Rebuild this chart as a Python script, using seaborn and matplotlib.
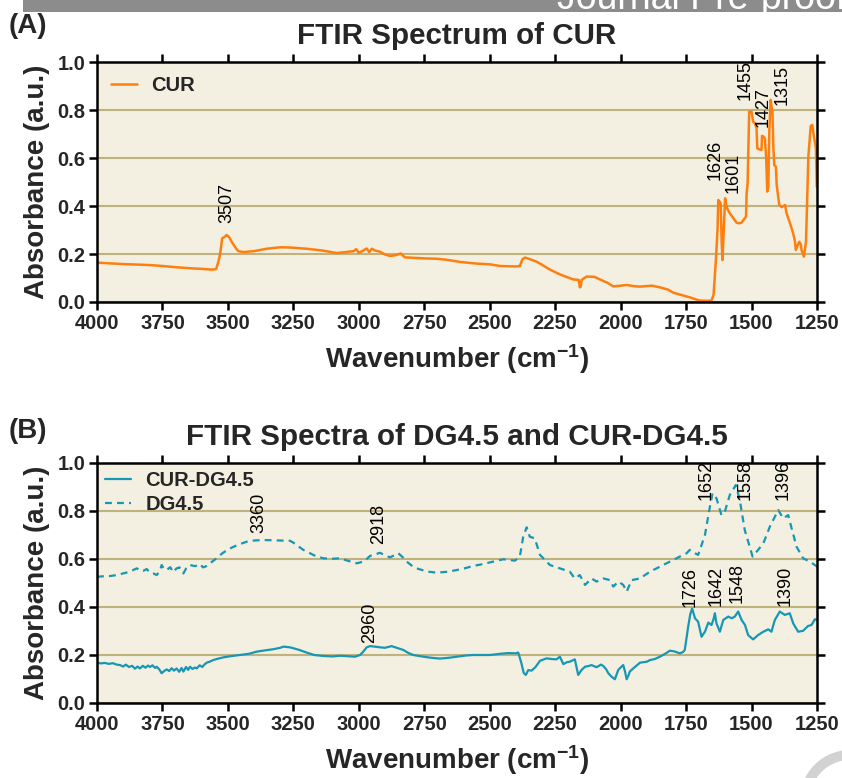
import matplotlib
matplotlib.use("Agg")
import matplotlib.pyplot as plt
from matplotlib.patches import Rectangle, Wedge
import seaborn as sns
import pandas as pd

# ---------------- data ----------------
cur_w = [4000, 3950, 3900, 3850, 3800, 3750, 3700, 3650, 3600, 3560, 3545, 3537, 3530, 3522, 3512, 3505,
         3495, 3485, 3470, 3460, 3440, 3400, 3352, 3300, 3263, 3200, 3136, 3085, 3050, 3020, 3010, 3000,
         2985, 2970, 2960, 2950, 2940, 2920, 2900, 2881, 2860, 2840, 2824, 2754, 2700, 2665, 2614, 2550,
         2499, 2461, 2400, 2385, 2375, 2365, 2345, 2321, 2300, 2270, 2232, 2200, 2181, 2160, 2156, 2152,
         2149, 2130, 2100, 2079, 2050, 2028, 2000, 1977, 1950, 1926, 1880, 1850, 1820, 1799, 1770, 1735,
         1710, 1697, 1670, 1653, 1645, 1640, 1635, 1630, 1627, 1622, 1618, 1614, 1611, 1608, 1605, 1601,
         1596, 1590, 1583, 1570, 1557, 1545, 1538, 1525, 1521, 1519, 1515, 1513, 1509, 1500, 1494, 1487,
         1481, 1478, 1462, 1460, 1455, 1449, 1444, 1440, 1436, 1432, 1427, 1420, 1417, 1413, 1407, 1404,
         1394, 1385, 1372, 1366, 1353, 1341, 1334, 1331, 1318, 1312, 1309, 1300, 1292, 1283, 1274, 1268,
         1262, 1254, 1251]
cur_a = [0.164, 0.161, 0.158, 0.156, 0.154, 0.150, 0.145, 0.141, 0.138, 0.135, 0.137, 0.165, 0.198, 0.265, 0.272, 0.279,
         0.270, 0.250, 0.225, 0.212, 0.208, 0.212, 0.222, 0.228, 0.227, 0.222, 0.214, 0.204, 0.208, 0.212, 0.220, 0.205,
         0.213, 0.223, 0.208, 0.222, 0.215, 0.210, 0.198, 0.192, 0.195, 0.202, 0.186, 0.182, 0.180, 0.176, 0.167, 0.160,
         0.157, 0.150, 0.148, 0.150, 0.178, 0.185, 0.178, 0.168, 0.155, 0.135, 0.115, 0.102, 0.094, 0.092, 0.061, 0.065,
         0.092, 0.106, 0.105, 0.094, 0.080, 0.065, 0.068, 0.071, 0.066, 0.064, 0.068, 0.061, 0.052, 0.039, 0.030, 0.019,
         0.010, 0.006, 0.005, 0.006, 0.030, 0.110, 0.196, 0.300, 0.425, 0.418, 0.411, 0.250, 0.175, 0.250, 0.330, 0.432,
         0.400, 0.383, 0.370, 0.350, 0.330, 0.328, 0.331, 0.350, 0.356, 0.450, 0.494, 0.592, 0.793, 0.793, 0.751, 0.745,
         0.724, 0.640, 0.633, 0.692, 0.690, 0.682, 0.600, 0.460, 0.481, 0.717, 0.842, 0.790, 0.650, 0.570, 0.564, 0.488,
         0.404, 0.395, 0.404, 0.369, 0.328, 0.286, 0.251, 0.217, 0.251, 0.240, 0.217, 0.189, 0.251, 0.606, 0.733, 0.738,
         0.692, 0.640, 0.480]

cdg_w = [4000, 3985, 3970, 3955, 3940, 3925, 3912, 3900, 3890, 3878, 3866, 3855, 3845, 3836, 3825, 3815,
         3805, 3798, 3788, 3778, 3772, 3762, 3753, 3745, 3734, 3724, 3715, 3706, 3696, 3686, 3677, 3670,
         3660, 3652, 3645, 3635, 3626, 3619, 3608, 3598, 3590, 3581, 3570, 3556, 3540, 3518, 3490, 3454,
         3420, 3390, 3360, 3327, 3300, 3288, 3263, 3230, 3199, 3170, 3136, 3100, 3072, 3040, 3015, 2995,
         2983, 2970, 2957, 2940, 2919, 2900, 2875, 2850, 2830, 2810, 2792, 2754, 2720, 2690, 2660, 2626,
         2590, 2563, 2530, 2499, 2460, 2430, 2400, 2391, 2380, 2370, 2362, 2353, 2340, 2325, 2308, 2283,
         2262, 2245, 2232, 2219, 2205, 2194, 2175, 2162, 2149, 2136, 2120, 2111, 2092, 2075, 2066, 2055,
         2047, 2035, 2022, 2015, 2009, 1998, 1990, 1983, 1977, 1970, 1965, 1952, 1926, 1900, 1888, 1870,
         1850, 1830, 1812, 1795, 1774, 1762, 1755, 1742, 1734, 1727, 1716, 1704, 1691, 1678, 1665, 1653,
         1645, 1640, 1634, 1621, 1608, 1589, 1576, 1564, 1551, 1538, 1525, 1513, 1494, 1475, 1455, 1436,
         1424, 1411, 1392, 1373, 1354, 1341, 1322, 1303, 1284, 1271, 1258, 1249]
cdg_a = [0.168, 0.165, 0.167, 0.163, 0.166, 0.160, 0.158, 0.152, 0.160, 0.150, 0.155, 0.143, 0.152, 0.144, 0.155, 0.147,
         0.156, 0.150, 0.157, 0.146, 0.151, 0.140, 0.124, 0.132, 0.140, 0.133, 0.145, 0.135, 0.144, 0.130, 0.146, 0.131,
         0.150, 0.138, 0.151, 0.142, 0.148, 0.144, 0.157, 0.150, 0.160, 0.168, 0.172, 0.179, 0.184, 0.190, 0.195, 0.200,
         0.205, 0.214, 0.219, 0.224, 0.230, 0.235, 0.232, 0.222, 0.210, 0.200, 0.196, 0.194, 0.197, 0.195, 0.193, 0.200,
         0.214, 0.232, 0.237, 0.235, 0.232, 0.230, 0.237, 0.228, 0.221, 0.208, 0.200, 0.193, 0.188, 0.185, 0.188, 0.193,
         0.198, 0.200, 0.200, 0.200, 0.205, 0.208, 0.207, 0.210, 0.170, 0.125, 0.117, 0.137, 0.135, 0.150, 0.176, 0.186,
         0.183, 0.182, 0.193, 0.162, 0.170, 0.172, 0.182, 0.117, 0.138, 0.151, 0.155, 0.158, 0.149, 0.160, 0.154, 0.140,
         0.124, 0.110, 0.099, 0.120, 0.138, 0.150, 0.158, 0.130, 0.099, 0.115, 0.131, 0.144, 0.168, 0.172, 0.179, 0.183,
         0.193, 0.205, 0.218, 0.215, 0.207, 0.212, 0.221, 0.318, 0.370, 0.394, 0.353, 0.339, 0.276, 0.297, 0.335, 0.325,
         0.350, 0.374, 0.332, 0.297, 0.346, 0.360, 0.353, 0.360, 0.381, 0.346, 0.325, 0.283, 0.265, 0.283, 0.297, 0.307,
         0.297, 0.346, 0.381, 0.367, 0.374, 0.332, 0.297, 0.301, 0.321, 0.325, 0.349, 0.346]

dg_w = [4000, 3975, 3950, 3925, 3900, 3874, 3860, 3848, 3835, 3823, 3810, 3798, 3785, 3772, 3760, 3753,
        3745, 3734, 3720, 3710, 3696, 3685, 3670, 3660, 3645, 3625, 3607, 3595, 3581, 3565, 3543, 3520,
        3492, 3460, 3428, 3400, 3365, 3330, 3300, 3263, 3250, 3212, 3170, 3136, 3100, 3072, 3040, 3008,
        2980, 2957, 2935, 2919, 2900, 2881, 2865, 2849, 2830, 2817, 2795, 2779, 2740, 2703, 2660, 2626,
        2600, 2563, 2530, 2487, 2448, 2404, 2385, 2372, 2359, 2347, 2328, 2308, 2270, 2232, 2194, 2175,
        2156, 2136, 2111, 2092, 2066, 2041, 2028, 2009, 1990, 1977, 1958, 1926, 1888, 1850, 1812, 1774,
        1748, 1736, 1716, 1704, 1695, 1678, 1659, 1649, 1634, 1615, 1602, 1583, 1560, 1545, 1526, 1496,
        1475, 1455, 1430, 1398, 1379, 1360, 1347, 1328, 1303, 1277, 1249]
dg_a = [0.526, 0.528, 0.529, 0.533, 0.540, 0.547, 0.555, 0.561, 0.552, 0.551, 0.558, 0.543, 0.540, 0.533, 0.550, 0.575,
        0.560, 0.554, 0.566, 0.545, 0.561, 0.565, 0.540, 0.560, 0.575, 0.570, 0.579, 0.565, 0.571, 0.585, 0.603, 0.625,
        0.644, 0.660, 0.672, 0.677, 0.679, 0.678, 0.677, 0.676, 0.668, 0.638, 0.615, 0.603, 0.601, 0.603, 0.592, 0.582,
        0.590, 0.613, 0.620, 0.626, 0.615, 0.607, 0.615, 0.624, 0.605, 0.589, 0.570, 0.561, 0.548, 0.543, 0.547, 0.554,
        0.560, 0.571, 0.578, 0.589, 0.599, 0.593, 0.610, 0.693, 0.732, 0.693, 0.686, 0.617, 0.575, 0.561, 0.547, 0.519,
        0.533, 0.492, 0.519, 0.506, 0.519, 0.512, 0.485, 0.506, 0.492, 0.464, 0.512, 0.519, 0.547, 0.568, 0.589, 0.610,
        0.624, 0.638, 0.624, 0.617, 0.645, 0.700, 0.818, 0.874, 0.853, 0.783, 0.797, 0.867, 0.908, 0.846, 0.721, 0.610,
        0.638, 0.665, 0.735, 0.804, 0.769, 0.783, 0.728, 0.651, 0.603, 0.589, 0.568]

# peak labels: (text, x position, bottom y)
peaks_a_text = ["3507", "1626", "1601", "1455", "1427", "1315"]
peaks_a_x = [3505, 1640, 1570, 1525, 1455, 1385]
peaks_a_y = [0.33, 0.508, 0.453, 0.842, 0.728, 0.821]

peaks_b_text = ["3360", "2918", "2960", "1652", "1558", "1396", "1726", "1642", "1548", "1390"]
peaks_b_x = [3380, 2926, 2957, 1672, 1526, 1379, 1736, 1634, 1555, 1373]
peaks_b_y = [0.707, 0.662, 0.251, 0.846, 0.846, 0.846, 0.401, 0.405, 0.415, 0.405]

x_ticks = [4000, 3750, 3500, 3250, 3000, 2750, 2500, 2250, 2000, 1750, 1500, 1250]
y_ticks = [0.0, 0.2, 0.4, 0.6, 0.8, 1.0]

# ---------------- style ----------------
sns.set_style("ticks")
plt.rcParams['font.family'] = ['Liberation Sans', 'DejaVu Sans']
plt.rcParams['font.weight'] = 'bold'
plt.rcParams['mathtext.fontset'] = 'custom'
plt.rcParams['mathtext.rm'] = 'Liberation Sans:bold'
plt.rcParams['mathtext.default'] = 'rm'

ORANGE = "#ff7f0e"
TEAL = "#1797b4"
BG = "#f3efe1"
GRID = "#bfb27d"
NARROW = ['Liberation Sans Narrow', 'Liberation Sans', 'DejaVu Sans']

W, H = 842, 778
fig = plt.figure(figsize=(W / 100, H / 100), dpi=100)
fig.patch.set_facecolor("white")
axA = fig.add_axes([97 / W, 1 - 302 / H, 720 / W, 240 / H])
axB = fig.add_axes([97 / W, 1 - 703 / H, 720 / W, 240 / H])

dfA = pd.DataFrame({"w": cur_w, "a": cur_a})
dfC = pd.DataFrame({"w": cdg_w, "a": cdg_a})
dfD = pd.DataFrame({"w": dg_w, "a": dg_a})

sns.lineplot(data=dfA, x="w", y="a", ax=axA, color=ORANGE, lw=1.8, label="CUR",
             sort=False, estimator=None)
sns.lineplot(data=dfC, x="w", y="a", ax=axB, color=TEAL, lw=1.6, label="CUR-DG4.5",
             sort=False, estimator=None)
sns.lineplot(data=dfD, x="w", y="a", ax=axB, color=TEAL, lw=1.6, label="DG4.5",
             sort=False, estimator=None, linestyle=(0, (3.1, 2.3)))


def style_axis(ax, title):
    ax.set_facecolor(BG)
    ax.set_xlim(4000, 1250)
    ax.set_ylim(0, 1.0)
    ax.set_xticks(x_ticks)
    ax.set_yticks(y_ticks)
    ax.set_yticklabels([f"{v:.1f}" for v in y_ticks])
    ax.set_axisbelow(True)
    ax.yaxis.grid(True, color=GRID, lw=1.5)
    ax.xaxis.grid(False)
    for s in ax.spines.values():
        s.set_visible(True)
        s.set_color("black")
        s.set_linewidth(1.8)
    ax.tick_params(axis="both", direction="out", top=True, right=True, length=5.5, width=1.8,
                   labelsize=14.5, pad=3, color="black")
    ax.set_xlabel("Wavenumber (cm$^{-1}$)", fontsize=20, fontweight="bold", labelpad=7)
    ax.set_ylabel("Absorbance (a.u.)", fontsize=20, fontweight="bold", labelpad=5)
    ax.set_title(title, fontsize=21.3, fontweight="bold", pad=13)


style_axis(axA, "FTIR Spectrum of CUR")
style_axis(axB, "FTIR Spectra of DG4.5 and CUR-DG4.5")

legA = axA.legend(loc="upper left", frameon=False, fontsize=14.5, handlelength=1.3,
                  handletextpad=0.7, borderaxespad=0.2, borderpad=0.5)
legB = axB.legend(loc="upper left", frameon=False, fontsize=14.5, handlelength=1.3,
                  handletextpad=0.7, borderaxespad=0.2, borderpad=0.2, labelspacing=0.25)
for leg in (legA, legB):
    for t in leg.get_texts():
        t.set_fontweight("bold")

for t, x, y in zip(peaks_a_text, peaks_a_x, peaks_a_y):
    axA.text(x, y, t, rotation=90, ha="center", va="bottom", fontsize=13,
             family=NARROW, fontweight="normal", color="black")
for t, x, y in zip(peaks_b_text, peaks_b_x, peaks_b_y):
    axB.text(x, y, t, rotation=90, ha="center", va="bottom", fontsize=13,
             family=NARROW, fontweight="normal", color="black")

fig.text(9 / W, 1 - 26 / H, "(A)", fontsize=20, fontweight="bold", ha="left", va="center")
fig.text(9 / W, 1 - 431 / H, "(B)", fontsize=20, fontweight="bold", ha="left", va="center")

# page header bar and corner mark of the source page
bar = Rectangle((23 / W, 1 - 12 / H), 1 - 23 / W, 12 / H, transform=fig.transFigure,
                facecolor="#8c8c8c", edgecolor="none", zorder=0)
fig.patches.append(bar)
ht = fig.text(557 / W, 1 - 9 / H, "Journal Pre-proof", color="white", fontsize=27,
              fontweight="normal", ha="left", va="baseline")
ht.set_clip_path(bar)
ring = Wedge((8.50, -0.22), 0.50, 0, 360, width=0.10, transform=fig.dpi_scale_trans,
             facecolor="#d2d2d2", edgecolor="none")
fig.patches.append(ring)

fig.savefig("out.png", dpi=100)
